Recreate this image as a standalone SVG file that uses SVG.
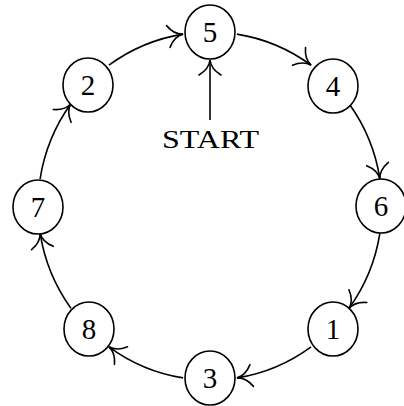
<svg xmlns="http://www.w3.org/2000/svg" width="404" height="406" viewBox="0 0 404 406">
<style>
.n ellipse{fill:#fff;stroke:#000;stroke-width:1.6}
.n text{font-family:"Liberation Serif",serif;font-size:29px;text-anchor:middle;fill:#000}
.c path{fill:none;stroke:#000;stroke-width:1.6;marker-end:url(#ah)}
.lbl{font-family:"Liberation Serif",serif;font-size:26px;fill:#000}
</style>
<defs>
<marker id="ah" markerUnits="userSpaceOnUse" viewBox="-18 -13 20 26" refX="0" refY="0" markerWidth="20" markerHeight="26" orient="auto" overflow="visible">
<path d="M-15,-11 Q-9,-1 0,0 Q-9,1 -15,11" fill="none" stroke="#000" stroke-width="1.6" stroke-linecap="round"/>
</marker>
</defs>
<rect width="404" height="406" fill="#fff"/>
<g id="connectors" class="c">
<path d="M236.9,34.1 A172,174 0 0 1 311.1,65.2"/>
<path d="M349.1,103.7 A172,174 0 0 1 379.9,178.8"/>
<path d="M379.9,233.2 A172,174 0 0 1 349.1,308.3"/>
<path d="M311.1,346.8 A172,174 0 0 1 236.9,377.9"/>
<path d="M183.1,377.9 A172,174 0 0 1 108.9,346.8"/>
<path d="M70.9,308.3 A172,174 0 0 1 40.1,233.2"/>
<path d="M40.1,178.8 A172,174 0 0 1 70.9,103.7"/>
<path d="M108.9,65.2 A172,174 0 0 1 183.1,34.1"/>
<path d="M210,120 L210,60"/>
</g>
<g id="n5" class="n"><ellipse cx="210" cy="32" rx="25" ry="27"/><text x="210" y="42">5</text></g>
<g id="n4" class="n"><ellipse cx="333" cy="86" rx="25" ry="27"/><text x="333" y="96">4</text></g>
<g id="n6" class="n"><ellipse cx="381" cy="206" rx="25" ry="27"/><text x="381" y="216">6</text></g>
<g id="n1" class="n"><ellipse cx="333" cy="329" rx="25" ry="27"/><text x="333" y="339">1</text></g>
<g id="n3" class="n"><ellipse cx="210" cy="378" rx="25" ry="27"/><text x="210" y="388">3</text></g>
<g id="n8" class="n"><ellipse cx="89" cy="329" rx="25" ry="27"/><text x="89" y="339">8</text></g>
<g id="n7" class="n"><ellipse cx="38" cy="207" rx="25" ry="27"/><text x="38" y="217">7</text></g>
<g id="n2" class="n"><ellipse cx="88" cy="85" rx="25" ry="27"/><text x="88" y="95">2</text></g>
<text class="lbl" x="162" y="148" textLength="97" lengthAdjust="spacingAndGlyphs">START</text>
</svg>
